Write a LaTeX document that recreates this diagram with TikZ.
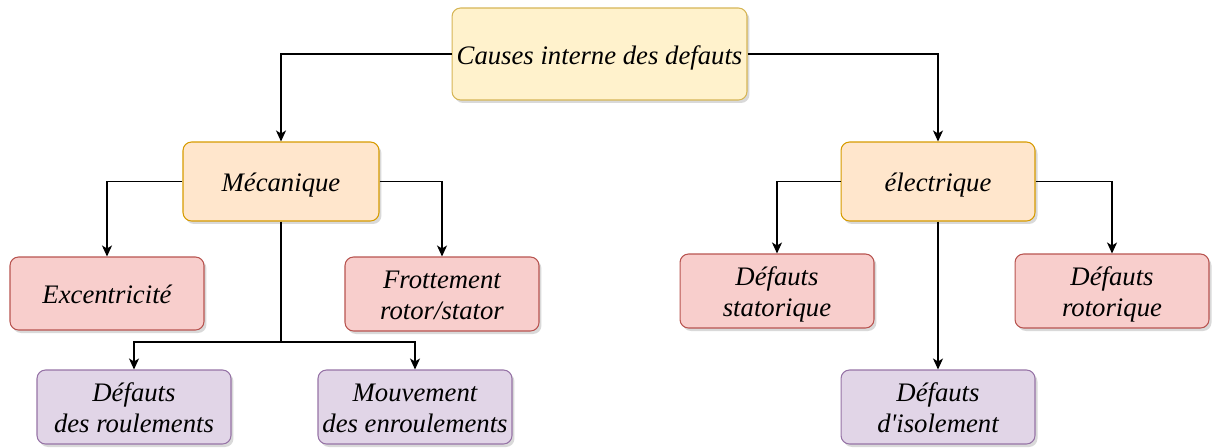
\documentclass[tikz,border=0pt]{standalone}
\usepackage{fontspec}
\setmainfont{Liberation Serif}[Ligatures=TeXOff]
\usetikzlibrary{arrows.meta,shadows}
\definecolor{yelfill}{HTML}{FFF2CC}
\definecolor{yeldraw}{HTML}{D6B656}
\definecolor{orafill}{HTML}{FFE6CC}
\definecolor{oradraw}{HTML}{D79B00}
\definecolor{redfill}{HTML}{F8CECC}
\definecolor{reddraw}{HTML}{B85450}
\definecolor{purfill}{HTML}{E1D5E7}
\definecolor{purdraw}{HTML}{9673A6}
\tikzset{
  box/.style={rectangle, rounded corners=0.17cm, line width=0.6pt,
    minimum width=3.88cm, minimum height=1.48cm, align=center,
    font=\fontsize{15.2}{18.1}\selectfont\itshape, inner sep=0pt,
    % fixed strut so that every label sits at the same height
    execute at begin node={\rule{0pt}{16pt}},
    execute at end node={\rule[-4.1pt]{0pt}{0pt}},
    drop shadow={shadow xshift=0.05cm, shadow yshift=-0.06cm, opacity=0.25, fill=black!60}},
  % two-line labels sit a little lower in their boxes
  twoline/.style={execute at begin node={\rule{0pt}{33.6pt}}},
  rootbox/.style={box, fill=yelfill, draw=yeldraw, minimum width=5.9cm, minimum height=1.84cm},
  midbox/.style={box, fill=orafill, draw=oradraw, minimum height=1.58cm},
  redbox/.style={box, fill=redfill, draw=reddraw},
  purbox/.style={box, fill=purfill, draw=purdraw},
  link/.style={line width=0.7pt, -{Stealth[length=0.22cm, width=0.2cm, inset=0.06cm]}}
}
\begin{document}
\begin{tikzpicture}[x=0.02cm, y=-0.02cm]
\useasboundingbox (0,0) rectangle (1212,447);
% top level
\node[rootbox] (root) at (599.5,54) {Causes interne des defauts};
% second level
\node[midbox, minimum width=3.92cm] (mec) at (281,181.5) {Mécanique};
\node[midbox] (ele) at (938,181.5) {électrique};
% mechanical branches
\node[redbox, minimum height=1.46cm] (exc) at (107,293.5) {Excentricité};
\node[redbox, twoline] (frot) at (442,294) {Frottement\\rotor/stator};
\node[purbox, twoline] (roul) at (134,407) {Défauts\\des roulements};
\node[purbox, twoline] (mouv) at (415,407) {Mouvement\\des enroulements};
% electrical branches
\node[redbox, twoline] (stat) at (777,291) {Défauts\\statorique};
\node[redbox, twoline] (rot) at (1112,291) {Défauts\\rotorique};
\node[purbox, twoline] (isol) at (938,407) {Défauts\\d'isolement};
% connectors
\draw[link] (root.west) -| (mec.north);
\draw[link] (root.east) -| (ele.north);
\draw[link] (mec.west) -| (exc.north);
\draw[link] (mec.east) -| (frot.north);
\coordinate (bus) at (281,342);
\draw[line width=0.7pt] (mec.south) -- (bus);
\draw[link] (bus) -| (roul.north);
\draw[link] (bus) -| (mouv.north);
\draw[link] (ele.west) -| (stat.north);
\draw[link] (ele.east) -| (rot.north);
\draw[link] (ele.south) -- (isol.north);
\end{tikzpicture}
\end{document}
